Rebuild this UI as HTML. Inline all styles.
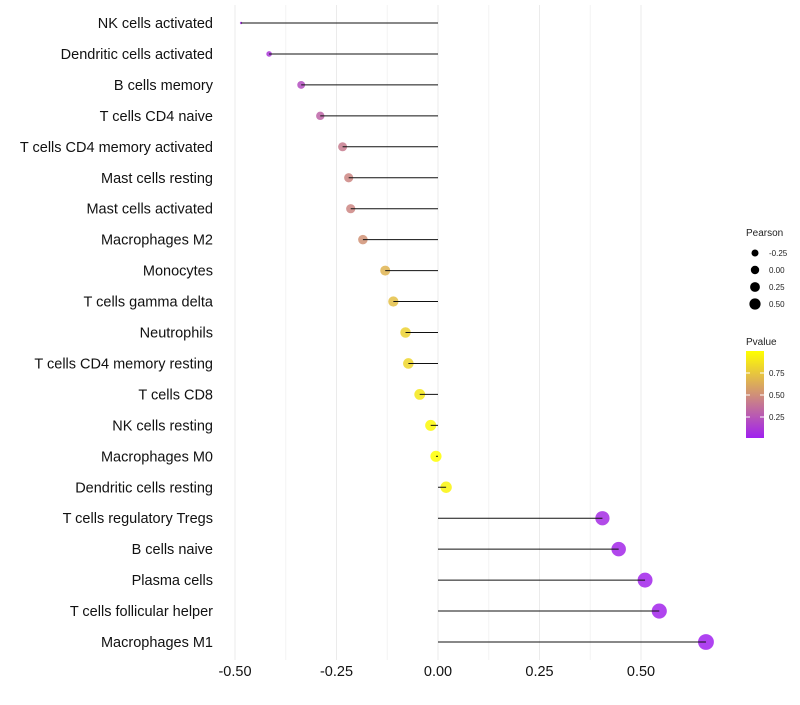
<!DOCTYPE html>
<html><head><meta charset="utf-8"><style>
body{margin:0;background:#fff}
svg text{font-family:"Liberation Sans",sans-serif}
</style></head><body>
<svg id="c" width="800" height="700" xmlns="http://www.w3.org/2000/svg"></svg>
<script>
const categories=["NK cells activated","Dendritic cells activated","B cells memory","T cells CD4 naive","T cells CD4 memory activated","Mast cells resting","Mast cells activated","Macrophages M2","Monocytes","T cells gamma delta","Neutrophils","T cells CD4 memory resting","T cells CD8","NK cells resting","Macrophages M0","Dendritic cells resting","T cells regulatory  Tregs ","B cells naive","Plasma cells","T cells follicular helper","Macrophages M1"];
const pearson=[-0.485,-0.416,-0.337,-0.29,-0.235,-0.22,-0.215,-0.185,-0.13,-0.11,-0.08,-0.073,-0.045,-0.018,-0.005,0.02,0.405,0.445,0.51,0.545,0.66];
const pvalue=[0.05,0.1,0.2,0.3,0.4,0.45,0.45,0.5,0.65,0.7,0.78,0.8,0.88,0.95,0.98,0.93,0.05,0.03,0.02,0.02,0.01];
const xTicks=[-0.5,-0.25,0,0.25,0.5];
const xTickLabels=["-0.50","-0.25","0.00","0.25","0.50"];
const sizeLegend=[-0.25,0,0.25,0.5];
const sizeLegendLabels=["-0.25","0.00","0.25","0.50"];
const colorTicks=[0.25,0.5,0.75];

const NS="http://www.w3.org/2000/svg";
const svg=document.getElementById('c');
function el(t,a,p){const e=document.createElementNS(NS,t);for(const k in a)e.setAttribute(k,a[k]);(p||svg).appendChild(e);return e;}
const x=v=>438+v*406;
const y=i=>23+i*30.95;
const pmin=Math.min(...pearson);
const r=v=>1.12*Math.sqrt(v< -0.337 ? 1.2+73*(v-pmin) : 12.25+38*(v+0.337));
function col(p){const t=Math.max(0,Math.min(1,p/0.98));return `rgb(${Math.round(160+95*t)},${Math.round(32+223*t)},${Math.round(240-240*t)})`;}

for(let i=0;i<xTicks.length;i++){
  let g=el('line',{x1:x(xTicks[i]),x2:x(xTicks[i]),y1:5,y2:660,stroke:'#ebebeb','stroke-width':1});
  
  if(i<xTicks.length-1){let m=(xTicks[i]+xTicks[i+1])/2;
    let g2=el('line',{x1:x(m),x2:x(m),y1:5,y2:660,stroke:'#f4f4f4','stroke-width':1});
    }
  let t=el('text',{x:x(xTicks[i]),y:676,'text-anchor':'middle','font-size':14.5,fill:'#111'});
  t.textContent=xTickLabels[i];
  
}
categories.forEach((c,i)=>{
  let t=el('text',{x:213,y:y(i)+5,'text-anchor':'end','font-size':14.5,fill:'#111'});
  t.textContent=c;
  
  let d=el('circle',{cx:x(pearson[i]),cy:y(i),r:r(pearson[i]),fill:col(pvalue[i]),'fill-opacity':0.85});
  
  let l=el('line',{x1:x(0),x2:x(pearson[i]),y1:y(i),y2:y(i),stroke:'#111','stroke-width':1});
  
});
let lt=el('text',{x:746,y:236,'font-size':10,fill:'#222'});lt.textContent='Pearson';

const legR=[3.5,4.2,4.9,5.6];
sizeLegend.forEach((v,i)=>{
  let c=el('circle',{cx:755,cy:253+i*17,r:legR[i],fill:'#000'});
  
  let t=el('text',{x:769,y:256+i*17,'font-size':8,fill:'#222'});t.textContent=sizeLegendLabels[i];
  
});
let ct=el('text',{x:746,y:345,'font-size':10,fill:'#222'});ct.textContent='Pvalue';

const defs=el('defs',{});
const gr=el('linearGradient',{id:'g',x1:0,y1:1,x2:0,y2:0},defs);
for(let s=0;s<=10;s++){el('stop',{offset:s/10,'stop-color':col(s/10*0.98)},gr);}
let cb=el('rect',{x:746,y:351,width:18,height:87,fill:'url(#g)'});

const cy=p=>439-p*88;
colorTicks.forEach(p=>{
  el('line',{x1:746,x2:750,y1:cy(p),y2:cy(p),stroke:'#fff'});
  el('line',{x1:760,x2:764,y1:cy(p),y2:cy(p),stroke:'#fff'});
  let t=el('text',{x:769,y:cy(p)+3,'font-size':8,fill:'#222'});t.textContent=p.toFixed(2);
  
});
</script>
</body></html>
